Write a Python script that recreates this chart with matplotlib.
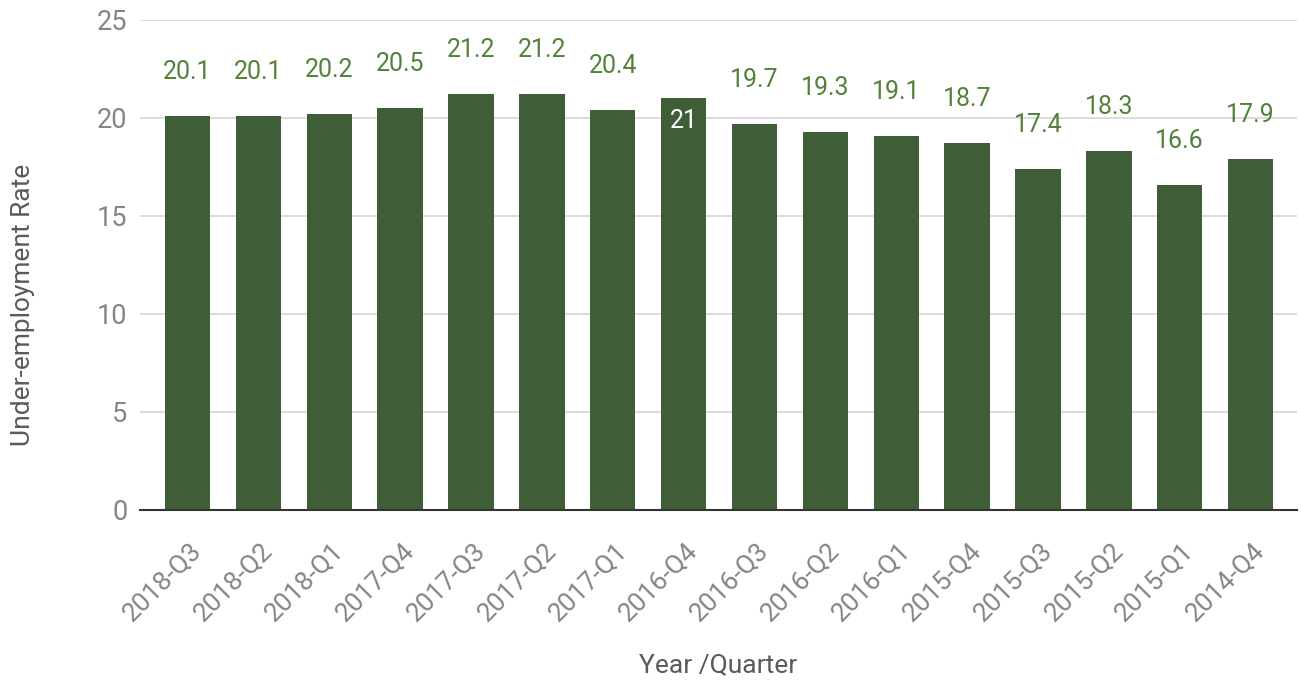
import numpy as np
import matplotlib.pyplot as plt
from matplotlib.transforms import ScaledTranslation

plt.rcParams['font.family'] = ['Roboto', 'DejaVu Sans']

quarters = ['2018-Q3', '2018-Q2', '2018-Q1', '2017-Q4', '2017-Q3', '2017-Q2',
            '2017-Q1', '2016-Q4', '2016-Q3', '2016-Q2', '2016-Q1', '2015-Q4',
            '2015-Q3', '2015-Q2', '2015-Q1', '2014-Q4']
rates = [20.1, 20.1, 20.2, 20.5, 21.2, 21.2, 20.4, 21.0, 19.7, 19.3, 19.1, 18.7,
         17.4, 18.3, 16.6, 17.9]
yticks = [0, 5, 10, 15, 20, 25]

bar_color = '#3f5d36'
label_color = '#52823a'
tick_color = '#858585'

fig = plt.figure(figsize=(13.01, 6.82), dpi=100)
ax = fig.add_axes([140 / 1301, 1 - 510 / 682, 1157 / 1301, 490 / 682])

x = np.arange(len(quarters))
ax.bar(x, rates, width=0.64, color=bar_color, zorder=2)

# value labels; the one that would collide goes inside its bar
for i, v in enumerate(rates):
    txt = f'{v:g}'
    if i == 7:
        ax.annotate(txt, (i, v), xytext=(0, -23), textcoords='offset pixels',
                    ha='center', va='center', color='white', fontsize=18)
    else:
        ax.annotate(txt, (i, v), xytext=(0, 44), textcoords='offset pixels',
                    ha='center', va='center', color=label_color, fontsize=18)

ax.set_ylim(0, 25)
ax.set_xlim(-0.67, 15.655)
ax.set_yticks(yticks)
ax.yaxis.grid(True, color='#d6d6d6', linewidth=1.2, zorder=0)
ax.set_axisbelow(True)
for s in ['top', 'right', 'left']:
    ax.spines[s].set_visible(False)
ax.spines['bottom'].set_color('#333333')
ax.spines['bottom'].set_linewidth(1.5)
ax.spines['bottom'].set_zorder(3)

ax.tick_params(axis='y', length=0, pad=9, labelsize=19.5, labelcolor=tick_color)
ax.tick_params(axis='x', length=0, pad=26, labelsize=19, labelcolor=tick_color)
ax.set_xticks(x, quarters, rotation=45, ha='right', va='center',
              rotation_mode='anchor')
for lbl in ax.get_xticklabels():
    lbl.set_transform(lbl.get_transform() +
                      ScaledTranslation(0.10, 0, fig.dpi_scale_trans))

ax.set_ylabel('Under-employment Rate', fontsize=19, color='#5a5a5a')
ax.yaxis.set_label_coords(-0.091, 0.418)
ax.set_xlabel('Year /Quarter', fontsize=19, color='#5a5a5a', labelpad=20)

fig.savefig('out.png', dpi=100)
